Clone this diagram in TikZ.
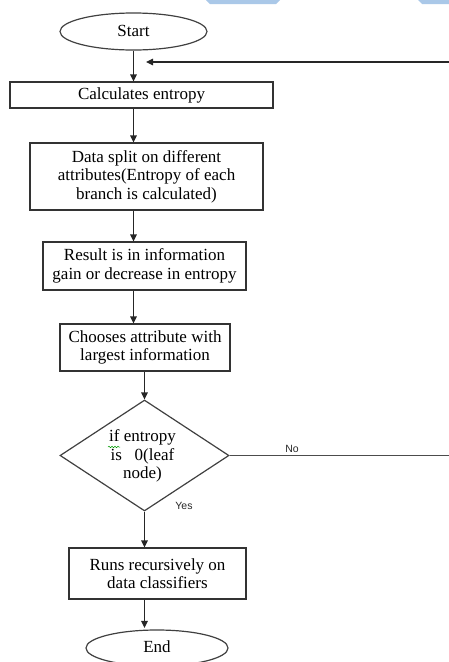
\documentclass[tikz,border=0pt]{standalone}
\usepackage{fontspec}
\setmainfont{Liberation Serif}
\newfontfamily\lblfont{Liberation Sans}
\usetikzlibrary{shapes.geometric,arrows.meta,decorations.pathmorphing}
\definecolor{bandblue}{RGB}{170,200,232}
\begin{document}
\begin{tikzpicture}[x=1pt,y=-1pt,
  boxstyle/.style={draw=black!80,line width=1.2pt,rectangle,inner sep=0pt,align=center,
    font=\fontsize{17}{18.5}\selectfont},
  ovalstyle/.style={draw=black!75,line width=1.2pt,ellipse,inner sep=0pt,
    font=\fontsize{17}{18.5}\selectfont},
  flow/.style={draw=black!85,line width=1.2pt,-{Triangle[length=7pt,width=6.5pt]}},
  plainline/.style={draw=black!70,line width=1.4pt},
  lbl/.style={font=\lblfont\fontsize{10.5}{12}\selectfont,text=black!85,inner sep=0pt}]
\useasboundingbox (0,0) rectangle (449,662);
% light blue remnants at the top edge
\fill[bandblue] (206,0) -- (280,0) -- (276,4) -- (210,4) -- cycle;
\fill[bandblue] (418,0) -- (449,0) -- (449,4) -- (422,4) -- cycle;

\node[ovalstyle,minimum width=147pt,minimum height=37pt] (start) at (133.5,31.5) {\raisebox{2pt}{Start}};
\node[boxstyle,minimum width=263pt,minimum height=26pt] (b1) at (141.5,95) {Calculates entropy};
\node[boxstyle,minimum width=233pt,minimum height=67pt] (b2) at (146.5,176.5)
  {Data split on different\\attributes(Entropy of each\\branch is calculated)};
\node[boxstyle,minimum width=203pt,minimum height=48pt] (b3) at (144.5,266)
  {Result is in information\\gain or decrease in entropy};
\node[boxstyle,minimum width=170pt,minimum height=47pt] (b4) at (145,347.5)
  {Chooses attribute with\\largest information};
\node[draw=black!75,line width=1.2pt,diamond,minimum width=169pt,minimum height=111pt,inner sep=0pt] (dia) at (144.5,455.5) {};
\node[align=center,font=\fontsize{17}{18.5}\selectfont,inner sep=0pt] (diatext) at (142.5,456)
  {if entropy\\is\ \ \ 0(leaf\\node)};
\draw[green!60!black,line width=0.5pt,decorate,decoration={snake,amplitude=0.8pt,segment length=3pt}]
  (108,447) -- (120,447);
\node[boxstyle,minimum width=177pt,minimum height=51pt] (b5) at (157.5,573.5)
  {Runs recursively on\\data classifiers};
\node[ovalstyle,minimum width=142pt,minimum height=36pt] (end) at (157,648) {\raisebox{2pt}{End}};

\coordinate (fbR) at (449,62);
\coordinate (fbL) at (146,62);
\coordinate (noR) at (449,455.5);
\coordinate (ax) at (133.5,0);

\draw[flow] (start.south) -- (start.south |- b1.north);
\draw[flow] (b1.south -| ax) -- (b2.north -| ax);
\draw[flow] (b2.south -| ax) -- (b3.north -| ax);
\draw[flow] (b3.south -| ax) -- (b4.north -| ax);
\draw[flow] (b4.south -| dia.north) -- (dia.north);
\draw[flow] (dia.south) -- (b5.north -| dia.south);
\draw[flow] (b5.south -| dia.south) -- ([yshift=1.5pt]end.north -| dia.south);
\draw[flow] (fbR) -- (fbL);
\draw[plainline] (dia.east) -- (dia.east -| noR);

\node[lbl,anchor=base] (no) at (292,452) {No};
\node[lbl,anchor=base] (yes) at (184,509) {Yes};
\end{tikzpicture}
\end{document}
